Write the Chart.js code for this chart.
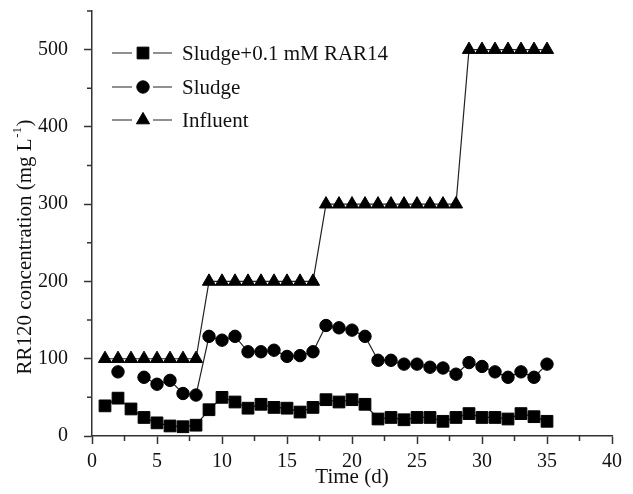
<!DOCTYPE html>
<html><head><meta charset="utf-8">
<script src="https://cdn.jsdelivr.net/npm/chart.js@4.4.1/dist/chart.umd.min.js"></script>
<style>html,body{margin:0;padding:0;background:#fff;}canvas{display:block;}</style>
</head><body>
<canvas id="c" width="633" height="494"></canvas>
<script>
// ---- data ----
const days = [1,2,3,4,5,6,7,8,9,10,11,12,13,14,15,16,17,18,19,20,21,22,23,24,25,26,27,28,29,30,31,32,33,34,35];
const sludgeRar14 = [39,49,35,24,17,13,12,14,34,50,44,36,41,37,36,31,37,47,44,47,41,22,24,21,24,24,19,24,29,24,24,22,29,25,19];
const sludge = [null,83,null,76,67,72,55,53,129,124,129,109,109,111,103,104,109,143,140,137,129,98,98,93,93,89,88,80,95,90,83,76,83,76,93];
const influent = [100,100,100,100,100,100,100,100,200,200,200,200,200,200,200,200,200,300,300,300,300,300,300,300,300,300,300,300,500,500,500,500,500,500,500];
const seriesLabels = ['Sludge+0.1 mM RAR14','Sludge','Influent'];
const xTicks = [0,5,10,15,20,25,30,35,40];
const xMinorTicks = [2.5,7.5,12.5,17.5,22.5,27.5,32.5,37.5];
const yTicks = [0,100,200,300,400,500];
const yMinorTicks = [50,150,250,350,450,550];
const xTitle = 'Time (d)';
const yTitleParts = ['RR120 concentration (mg L', '-1', ')'];

const FONT = '"Liberation Serif","Times New Roman",serif';
const INK = '#111';
const AX = '#333';

function pts(arr){ return days.map((d,i)=>({x:d, y:arr[i]})); }

const styles = [
  {pointStyle:'rect', pointRadius:8.3},
  {pointStyle:'circle', pointRadius:6.2},
  {pointStyle:'triangle', pointRadius:7.6}
];
const seriesData = [sludgeRar14, sludge, influent];

const datasets = seriesData.map((arr,i)=>({
  label: seriesLabels[i],
  data: pts(arr),
  borderColor: '#222',
  borderWidth: 1.2,
  backgroundColor: '#000',
  pointBackgroundColor: '#000',
  pointBorderColor: '#000',
  pointBorderWidth: 1,
  pointStyle: styles[i].pointStyle,
  pointRadius: styles[i].pointRadius,
  pointHoverRadius: styles[i].pointRadius,
  spanGaps: false,
  tension: 0,
  fill: false,
  clip: false
}));

const extras = {
  id: 'extras',
  afterDraw(chart){
    const ctx = chart.ctx;
    const xs = chart.scales.x, ys = chart.scales.y;
    ctx.save();
    // minor ticks
    ctx.strokeStyle = AX; ctx.lineWidth = 1.5;
    ctx.beginPath();
    xMinorTicks.forEach(v=>{ const p = xs.getPixelForValue(v); ctx.moveTo(p, xs.top); ctx.lineTo(p, xs.top+5); });
    yMinorTicks.forEach(v=>{ const p = ys.getPixelForValue(v); ctx.moveTo(ys.right, p); ctx.lineTo(ys.right-5, p); });
    ctx.stroke();

    // y title with superscript
    ctx.fillStyle = INK;
    ctx.textBaseline = 'middle';
    const mainF = '21px ' + FONT, supF = '13px ' + FONT;
    ctx.font = mainF; const w1 = ctx.measureText(yTitleParts[0]).width; const w3 = ctx.measureText(yTitleParts[2]).width;
    ctx.font = supF; const w2 = ctx.measureText(yTitleParts[1]).width;
    const total = w1 + w2 + w3 + 1;
    ctx.translate(25, 247);
    ctx.rotate(-Math.PI/2);
    let x0 = -total/2;
    ctx.textAlign = 'left';
    ctx.font = mainF; ctx.fillText(yTitleParts[0], x0, 0);
    ctx.font = supF; ctx.fillText(yTitleParts[1], x0 + w1 + 0.5, -7);
    ctx.font = mainF; ctx.fillText(yTitleParts[2], x0 + w1 + w2 + 1, 0);
    ctx.restore();

    // legend
    ctx.save();
    const rows = [53, 87, 120];
    chart.data.datasets.forEach((ds,i)=>{
      const y = rows[i];
      ctx.strokeStyle = '#222'; ctx.lineWidth = 1.2;
      ctx.beginPath();
      ctx.moveTo(112, y); ctx.lineTo(132, y);
      ctx.moveTo(153, y); ctx.lineTo(172, y);
      ctx.stroke();
      ctx.fillStyle = '#000'; ctx.strokeStyle = '#000'; ctx.lineWidth = 1;
      Chart.helpers.drawPoint(ctx, {pointStyle: ds.pointStyle, radius: ds.pointRadius, borderWidth: 1, rotation: 0}, 143, y);
      ctx.fillStyle = INK; ctx.font = '21px ' + FONT; ctx.textAlign = 'left'; ctx.textBaseline = 'middle';
      ctx.fillText(ds.label, 182, y + 1);
    });
    ctx.restore();
  }
};

new Chart(document.getElementById('c'), {
  type: 'line',
  data: { datasets },
  options: {
    responsive: false,
    devicePixelRatio: 1,
    animation: false,
    events: [],
    layout: { padding: { top: 11, right: 21, left: 0, bottom: 0 } },
    plugins: { legend: { display: false }, tooltip: { enabled: false } },
    scales: {
      x: {
        type: 'linear', min: 0, max: 40,
        afterBuildTicks: s => { s.ticks = xTicks.map(v=>({value:v})); },
        afterFit: s => { s.height = 58; s.paddingLeft = 0; s.paddingRight = 0; },
        ticks: { font: { size: 20, family: FONT }, color: INK, padding: 6, maxRotation: 0, autoSkip: false },
        grid: { drawOnChartArea: false, drawTicks: true, tickLength: 8, tickColor: AX, tickWidth: 1.5 },
        border: { display: true, color: AX, width: 1.5 },
        title: { display: true, text: xTitle, color: INK, font: { size: 21, family: FONT }, padding: { top: 0, bottom: 4 } }
      },
      y: {
        type: 'linear', min: 0, max: 550,
        afterBuildTicks: s => { s.ticks = yTicks.map(v=>({value:v})); },
        afterFit: s => { s.width = 92; s.paddingTop = 0; s.paddingBottom = 0; },
        ticks: { font: { size: 20, family: FONT }, color: INK, padding: 16 },
        grid: { drawOnChartArea: false, drawTicks: true, tickLength: 8, tickColor: AX, tickWidth: 1.5 },
        border: { display: true, color: AX, width: 1.5 }
      }
    }
  },
  plugins: [extras]
});
</script>
</body></html>
